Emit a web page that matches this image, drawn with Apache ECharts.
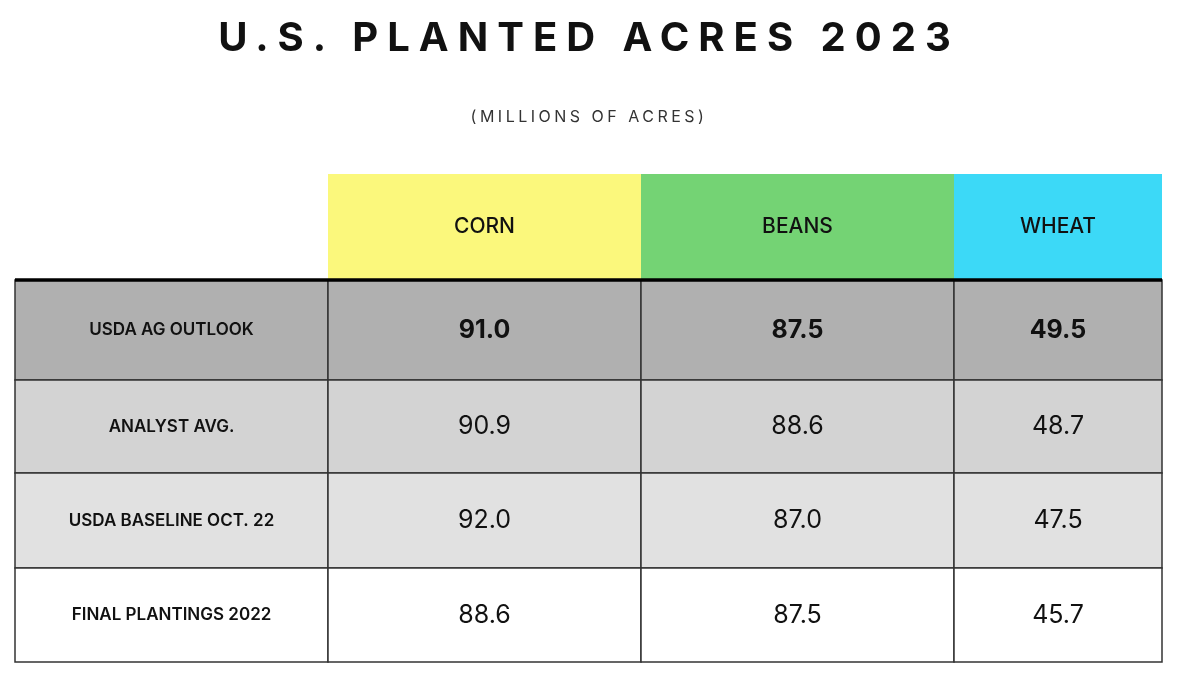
<!DOCTYPE html>
<html><head><meta charset="utf-8">
<script src="https://cdn.jsdelivr.net/npm/echarts@6/dist/echarts.min.js"></script>
<style>
body{margin:0;background:#fff;}
#t{position:absolute;left:0;width:1178px;top:12px;text-align:center;font:700 40px Inter,sans-serif;letter-spacing:9px;color:#111;}
#s{position:absolute;left:0;width:1178px;top:106px;text-align:center;font:400 16px Inter,sans-serif;letter-spacing:3.5px;color:#333;}
#c{width:1178px;height:675px;}
</style></head><body>
<div id="c"></div>
<div id="t">U.S. PLANTED ACRES 2023</div>
<div id="s">(MILLIONS OF ACRES)</div>
<script>
const crops = ['CORN','BEANS','WHEAT'];
const rowsLabels = ['USDA AG OUTLOOK','ANALYST AVG.','USDA BASELINE OCT. 22','FINAL PLANTINGS 2022'];
const corn = ['91.0','90.9','92.0','88.6'];
const beans = ['87.5','88.6','87.0','87.5'];
const wheat = ['49.5','48.7','47.5','45.7'];

// layout constants
const colEdges = [0,313,626,939,1147];
const rowEdges = [0,106,206,299,394,488];
const headFill = ['#ffffff','#fbf87c','#74d374','#3cd9f7'];
const rowFill = ['#b0b0b0','#d3d3d3','#e1e1e1','#ffffff'];
const cols = [corn,beans,wheat];

const cells = [];
for (let c=0;c<4;c++) cells.push([colEdges[c],colEdges[c+1],rowEdges[0],rowEdges[1], c===0?'':crops[c-1], headFill[c], 0, 'head']);
for (let r=0;r<4;r++) for (let c=0;c<4;c++) cells.push([colEdges[c],colEdges[c+1],rowEdges[r+1],rowEdges[r+2], c===0?rowsLabels[r]:cols[c-1][r], rowFill[r], r===0?1:0, c===0?'label':'val']);

const chart = echarts.init(document.getElementById('c'));
chart.setOption({
  animation:false,
  grid:{left:15,right:16,top:174,bottom:13},
  xAxis:{type:'value',min:0,max:1147,show:false},
  yAxis:{type:'value',min:0,max:488,inverse:true,show:false},
  series:[{
    type:'custom',
    data:cells,
    encode:{x:[0,1],y:[2,3]},
    renderItem:function(params,api){
      const d = cells[params.dataIndex];
      const p0 = api.coord([d[0],d[2]]), p1 = api.coord([d[1],d[3]]);
      const head = d[7]==='head';
      const font = head ? '500 21px Inter, sans-serif' :
        d[7]==='label' ? '600 17px Inter, sans-serif' :
        (d[6] ? '700 25px Inter, sans-serif' : '400 25px Inter, sans-serif');
      return {
        type:'group',
        children:[{
          type:'rect',
          shape:{x:p0[0],y:p0[1],width:p1[0]-p0[0],height:p1[1]-p0[1]},
          style:{fill:d[5],stroke:head?null:'#333',lineWidth:head?0:1.5}
        },{
          type:'text',
          style:{text:d[4],x:(p0[0]+p1[0])/2,y:(p0[1]+p1[1])/2,align:'center',verticalAlign:'middle',font:font,fill:'#111'}
        }]
      };
    }
  },{
    type:'custom',
    data:[[0,1147,rowEdges[1]]],
    renderItem:function(params,api){
      const a = api.coord([0,rowEdges[1]]), b = api.coord([1147,rowEdges[1]]);
      return {type:'line',shape:{x1:a[0],y1:a[1],x2:b[0],y2:b[1]},style:{stroke:'#000',lineWidth:3.5}};
    }
  }]
});
</script></body></html>
